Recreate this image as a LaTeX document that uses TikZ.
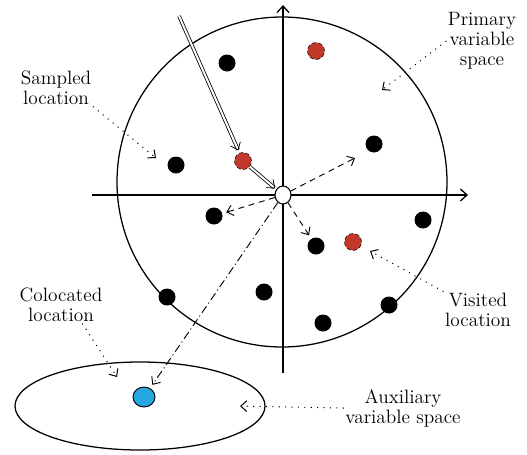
\documentclass[tikz,border=0pt]{standalone}
\usetikzlibrary{arrows.meta,shapes.geometric}

\definecolor{visitred}{RGB}{194,57,43}
\definecolor{colblue}{RGB}{39,168,224}

\begin{document}
\begin{tikzpicture}[
  x=0.75pt, y=-0.75pt,
  every node/.style={font=\fontsize{14.5}{15}\selectfont},
  axis/.style={-{Straight Barb[length=5pt,width=9pt]}, line width=0.95pt},
  space/.style={draw, line width=0.95pt, inner sep=0pt},
  dot/.style={circle, fill=black, minimum size=12.75pt, inner sep=0pt},
  visited/.style={circle, fill=visitred, draw=black, densely dashed, line width=0.4pt, minimum size=12.75pt, inner sep=0pt},
  origin/.style={ellipse, draw, fill=white, line width=0.8pt, minimum width=12pt, minimum height=13.5pt, inner sep=0pt},
  coloc/.style={ellipse, draw, fill=colblue, line width=0.7pt, minimum width=16.5pt, minimum height=15pt, inner sep=0pt},
  move/.style={-{Straight Barb[length=5pt,width=8pt]}, double, double distance=1.5pt, line width=0.6pt},
  probe/.style={-{Straight Barb[length=4.5pt,width=8pt]}, dash pattern=on 4.5pt off 3.5pt, line width=0.7pt, shorten >=3pt},
  link/.style={-{Straight Barb[length=4.5pt,width=8pt]}, dash pattern=on 6pt off 2.5pt on 0.8pt off 2.5pt, line width=0.7pt, shorten >=3pt},
  lblarr/.style={-{Straight Barb[length=4.5pt,width=8pt]}, dash pattern=on 0.8pt off 4pt, line width=0.75pt},
  lbl/.style={align=center, inner sep=1pt}
]
\useasboundingbox (0,0) rectangle (527,454);

% Spaces
\node[space, circle, minimum size=247.5pt] (primary) at (282,182) {};
\node[space, ellipse, minimum width=187.5pt, minimum height=66pt] (aux) at (140,406) {};

% Axes
\coordinate (xl) at (92,195);
\coordinate (xr) at (468,195);
\coordinate (yb) at (283,373);
\coordinate (yt) at (283,5);
\draw[axis] (xl) -- (xr);
\draw[axis] (yb) -- (yt);

% Locations
\node[origin] (O) at (283,195) {};
\node[dot] (d1) at (227,63) {};
\node[dot] (d2) at (176,165) {};
\node[dot] (d3) at (374,144) {};
\node[dot] (d4) at (214,216) {};
\node[dot] (d5) at (423,220) {};
\node[dot] (d6) at (316,246) {};
\node[dot] (d7) at (264,292) {};
\node[dot] (d8) at (167,297) {};
\node[dot] (d9) at (389,305) {};
\node[dot] (d10) at (323,323) {};
\node[visited] (v1) at (316,51) {};
\node[visited] (v2) at (243,161) {};
\node[visited] (v3) at (353,242) {};
\node[coloc] (c1) at (144,397) {};

% Path to current location
\coordinate (start) at (179,16);
\draw[move, shorten >=2pt] (start) -- (v2);
\draw[move, shorten >=1pt] (v2) -- (O);

% Candidate moves
\coordinate (cand) at (355,158);
\draw[probe, shorten >=0pt] (O) -- (cand);
\draw[probe] (O) -- (d4);
\draw[probe] (O) -- (d6);
\draw[link] (O) -- (c1);

% Labels
\node[lbl] (sampledlbl) at (56,88) {Sampled\\location};
\node[lbl] (primarylbl) at (482,41) {Primary\\variable\\space};
\node[lbl] (visitedlbl) at (478,310) {Visited\\location};
\node[lbl] (colocatedlbl) at (61,305) {Colocated\\location};
\node[lbl] (auxlbl) at (403,408) {Auxiliary\\variable space};

\coordinate (sampledtip) at (156,158);
\coordinate (primarytip) at (382,90);
\coordinate (visitedtip) at (370,251);
\coordinate (colocatedtip) at (117,377);
\coordinate (auxtip) at (240,406);

\draw[lblarr] (sampledlbl.south east) -- (sampledtip);
\draw[lblarr] (primarylbl.west) -- (primarytip);
\draw[lblarr] (visitedlbl.north west) -- (visitedtip);
\draw[lblarr] ([xshift=16pt]colocatedlbl.south) -- (colocatedtip);
\draw[lblarr] (auxlbl.west) -- (auxtip);

\end{tikzpicture}
\end{document}
